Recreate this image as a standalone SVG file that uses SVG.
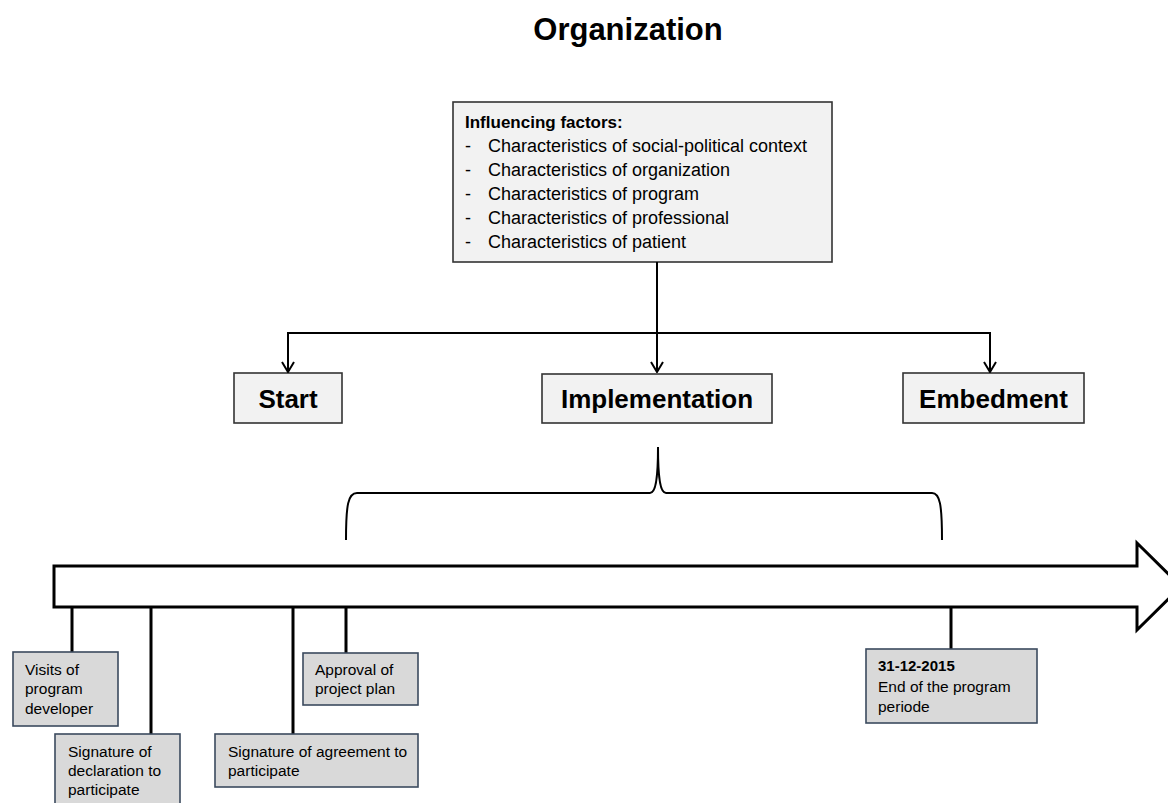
<svg xmlns="http://www.w3.org/2000/svg" width="1168" height="803" viewBox="0 0 1168 803">
<defs>
<style>
text{font-family:"Liberation Sans",Arial,sans-serif;fill:#000}
.title{font-size:31px;font-weight:bold}
.phase{font-size:26px;font-weight:bold}
.inf{font-size:18px}
.infb{font-size:17px;font-weight:bold}
.lbl{font-size:15.5px}
.lblb{font-size:15px;font-weight:bold}
.topbox{fill:#f2f2f2;stroke:#333;stroke-width:1.6}
.evbox{fill:#d9d9d9;stroke:#3b4a5e;stroke-width:1.6}
.conn{fill:none;stroke:#000;stroke-width:2}
.tick{fill:none;stroke:#000;stroke-width:3}
</style>
<marker id="chev" viewBox="0 0 12 14" refX="11" refY="7" markerUnits="userSpaceOnUse" markerWidth="12" markerHeight="14" orient="auto">
<path d="M1,1 L11,7 L1,13" fill="none" stroke="#000" stroke-width="2"/>
</marker>
</defs>
<rect width="1168" height="803" fill="#fff"/>
<text class="title" x="628" y="40" text-anchor="middle">Organization</text>

<g id="influencing">
<rect class="topbox" x="453" y="102" width="379" height="160"/>
<text class="infb" x="465" y="128">Influencing factors:</text>
<text class="inf" x="465" y="152">-</text><text class="inf" x="488" y="152">Characteristics of social-political context</text>
<text class="inf" x="465" y="176">-</text><text class="inf" x="488" y="176">Characteristics of organization</text>
<text class="inf" x="465" y="200">-</text><text class="inf" x="488" y="200">Characteristics of program</text>
<text class="inf" x="465" y="224">-</text><text class="inf" x="488" y="224">Characteristics of professional</text>
<text class="inf" x="465" y="248">-</text><text class="inf" x="488" y="248">Characteristics of patient</text>
</g>

<g id="start">
<rect class="topbox" x="234" y="373" width="108" height="50"/>
<text class="phase" x="288" y="408" text-anchor="middle">Start</text>
</g>
<g id="implementation">
<rect class="topbox" x="542" y="374" width="230" height="49"/>
<text class="phase" x="657" y="408" text-anchor="middle">Implementation</text>
</g>
<g id="embedment">
<rect class="topbox" x="903" y="373" width="181" height="50"/>
<text class="phase" x="993.5" y="408" text-anchor="middle">Embedment</text>
</g>

<g id="connectors">
<path class="conn" d="M657,262 L657,372" marker-end="url(#chev)"/>
<path class="conn" d="M288,333 L990,333"/>
<path class="conn" d="M288,332 L288,372" marker-end="url(#chev)"/>
<path class="conn" d="M990,332 L990,372" marker-end="url(#chev)"/>
<path class="conn" d="M346,540 C346,505 348,493 357,493 L650,493 C655,493 658,482 658,447 C658,482 661,493 666,493 L932,493 C940,493 942,505 942,540"/>
<path class="tick" d="M72,607 L72,653 M151,607 L151,734 M293,607 L293,734 M346,607 L346,653 M951,607 L951,649"/>
</g>

<g id="timeline">
<path d="M54,566 L1137,566 L1137,543 L1181,586.5 L1137,630 L1137,607 L54,607 Z" fill="#fff" stroke="#000" stroke-width="3"/>
</g>

<g id="ev-visits">
<rect class="evbox" x="13" y="652" width="105" height="74"/>
<text class="lbl" x="25" y="675">Visits of</text>
<text class="lbl" x="25" y="694">program</text>
<text class="lbl" x="25" y="714">developer</text>
</g>
<g id="ev-declaration">
<rect class="evbox" x="55" y="734" width="125" height="75"/>
<text class="lbl" x="68" y="757">Signature of</text>
<text class="lbl" x="68" y="776">declaration to</text>
<text class="lbl" x="68" y="795">participate</text>
</g>
<g id="ev-agreement">
<rect class="evbox" x="215" y="734" width="203" height="53"/>
<text class="lbl" x="228" y="757">Signature of agreement to</text>
<text class="lbl" x="228" y="776">participate</text>
</g>
<g id="ev-approval">
<rect class="evbox" x="303" y="653" width="115" height="52"/>
<text class="lbl" x="315" y="675">Approval of</text>
<text class="lbl" x="315" y="694">project plan</text>
</g>
<g id="ev-end">
<rect class="evbox" x="866" y="649" width="171" height="74"/>
<text class="lblb" x="878" y="671">31-12-2015</text>
<text class="lbl" x="878" y="692">End of the program</text>
<text class="lbl" x="878" y="712">periode</text>
</g>
</svg>
